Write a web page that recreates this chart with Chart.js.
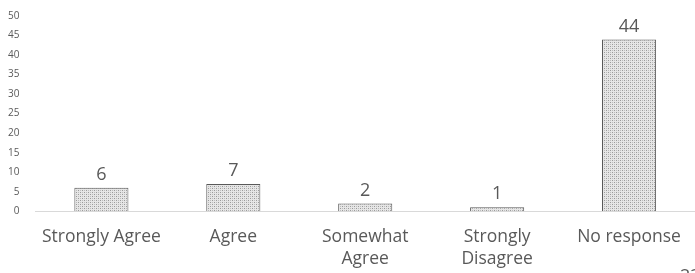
<!DOCTYPE html>
<html>
<head>
<meta charset="utf-8">
<script src="https://cdn.jsdelivr.net/npm/chart.js@4"></script>
<style>
  html, body { margin: 0; padding: 0; background: #fff; }
  #wrap { width: 695px; height: 273px; }
</style>
</head>
<body>
<div id="wrap"><canvas id="myChart" width="695" height="273"></canvas></div>
<script>
const categories = ['Strongly Agree', 'Agree', ['Somewhat', 'Agree'], ['Strongly', 'Disagree'], 'No response'];
const responses = [6, 7, 2, 1, 44];
const yTicks = [0, 5, 10, 15, 20, 25, 30, 35, 40, 45, 50];

const FONT = '"Open Sans", "Noto Sans", sans-serif';
const TEXT = '#595959';

// stippled gray fill like the original
function makePattern() {
  const c = document.createElement('canvas');
  c.width = 4; c.height = 4;
  const g = c.getContext('2d');
  g.fillStyle = '#e6e6e6';
  g.fillRect(0, 0, 4, 4);
  g.fillStyle = '#9a9a9a';
  g.fillRect(0, 0, 1, 1);
  g.fillRect(2, 2, 1, 1);
  g.fillStyle = '#bdbdbd';
  g.fillRect(2, 0, 1, 1);
  g.fillRect(0, 2, 1, 1);
  return g.createPattern(c, 'repeat');
}

const valueLabels = {
  id: 'valueLabels',
  afterDatasetsDraw(chart) {
    const ctx = chart.ctx;
    const meta = chart.getDatasetMeta(0);
    ctx.save();
    ctx.font = '18px ' + FONT;
    ctx.fillStyle = TEXT;
    ctx.textAlign = 'center';
    ctx.textBaseline = 'bottom';
    meta.data.forEach((bar, i) => {
      ctx.fillText(String(responses[i]), bar.x, bar.y - 4);
    });
    // cut-off page number at the bottom right
    ctx.textAlign = 'left';
    ctx.textBaseline = 'alphabetic';
    ctx.fillText('23', 680, 282);
    ctx.restore();
  }
};

const ctx = document.getElementById('myChart').getContext('2d');
new Chart(ctx, {
  type: 'bar',
  data: {
    labels: categories,
    datasets: [{
      data: responses,
      backgroundColor: makePattern(),
      borderColor: '#595959',
      borderWidth: 1,
      categoryPercentage: 1,
      barPercentage: 0.41
    }]
  },
  options: {
    responsive: false,
    animation: false,
    layout: { padding: { top: 16, right: 0, left: 0, bottom: -4 } },
    plugins: { legend: { display: false }, tooltip: { enabled: false } },
    scales: {
      x: {
        grid: { display: false },
        border: { display: true, color: '#d9d9d9' },
        ticks: {
          color: TEXT,
          font: { family: FONT, size: 17.5, lineHeight: 1.25 },
          padding: 7,
          maxRotation: 0,
          autoSkip: false
        }
      },
      y: {
        min: 0,
        max: 50,
        afterBuildTicks(axis) { axis.ticks = yTicks.map(v => ({ value: v })); },
        grid: { display: false },
        border: { display: false },
        ticks: {
          color: TEXT,
          font: { family: FONT, size: 10 },
          padding: 8
        }
      }
    }
  },
  plugins: [valueLabels]
});
</script>
</body>
</html>
